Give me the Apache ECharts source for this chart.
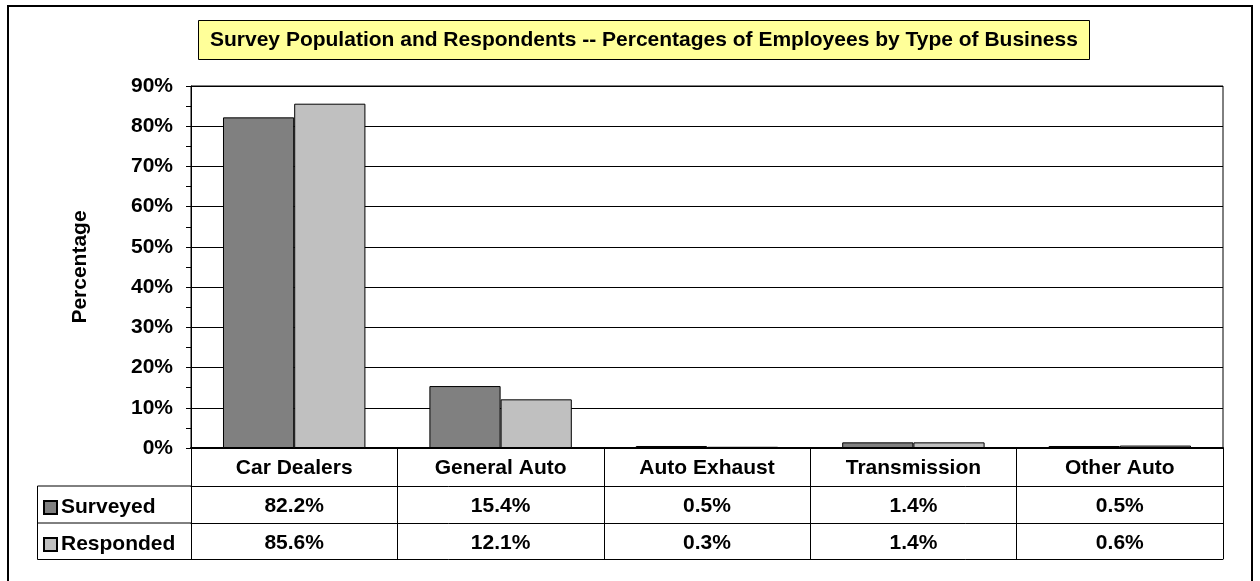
<!DOCTYPE html>
<html>
<head>
<meta charset="utf-8">
<title>Survey Population and Respondents</title>
<script src="https://cdn.jsdelivr.net/npm/echarts@6/dist/echarts.min.js"></script>
<style>
  html, body { margin: 0; padding: 0; background: #fff; }
  #chart { width: 1260px; height: 581px; }
</style>
</head>
<body>
<div id="chart"></div>
<script>
const categories = ['Car Dealers', 'General Auto', 'Auto Exhaust', 'Transmission', 'Other Auto'];
const surveyed = [82.2, 15.4, 0.5, 1.4, 0.5];
const responded = [85.6, 12.1, 0.3, 1.4, 0.6];
const yTicks = [0, 10, 20, 30, 40, 50, 60, 70, 80, 90];

const FONT = 'Liberation Sans, Arial, sans-serif';
const bold21 = { fontFamily: FONT, fontWeight: 'bold', fontSize: 21, color: '#000' };

const chart = echarts.init(document.getElementById('chart'));

// one extra category axis per table row, labels pulled from the arrays
function rowAxis(offset, values, showLabels) {
  return {
    type: 'category',
    data: categories,
    position: 'bottom',
    offset: offset,
    axisLine: { show: true, lineStyle: { color: '#000', width: 1 } },
    axisTick: { show: false },
    axisLabel: {
      show: showLabels,
      margin: 10,
      ...bold21,
      formatter: (v, i) => values ? values[i].toFixed(1) + '%' : v
    }
  };
}

const option = {
  animation: false,
  backgroundColor: '#fff',
  title: {
    text: 'Survey Population and Respondents -- Percentages of Employees by Type of Business',
    left: 198,
    top: 20,
    padding: [10, 12, 9, 12],
    backgroundColor: '#ffff99',
    borderColor: '#000',
    borderWidth: 1,
    textStyle: { ...bold21, lineHeight: 21 }
  },
  legend: {
    orient: 'vertical',
    left: 43,
    top: 497,
    padding: 0,
    itemWidth: 13,
    itemHeight: 13,
    itemGap: 16,
    icon: 'rect',
    selectedMode: false,
    textStyle: { ...bold21, padding: [0, 0, 0, -1], lineHeight: 21 },
    data: ['Surveyed', 'Responded']
  },
  grid: {
    left: 191, right: 37, top: 86, bottom: 133,
    show: true, borderColor: '#000', borderWidth: 1
  },
  xAxis: [
    {
      type: 'category',
      data: categories,
      position: 'bottom',
      axisLine: { show: true, lineStyle: { color: '#000', width: 2 } },
      axisTick: { show: true, length: 111, lineStyle: { color: '#000' } },
      axisLabel: { margin: 10, ...bold21 }
    },
    rowAxis(38, surveyed, true),
    rowAxis(75, responded, true),
    rowAxis(111, null, false)
  ],
  yAxis: {
    type: 'value',
    min: 0,
    max: 90,
    interval: 10,
    name: 'Percentage',
    nameLocation: 'middle',
    nameRotate: 90,
    nameGap: 100,
    nameTextStyle: bold21,
    axisLine: { show: true, lineStyle: { color: '#000', width: 1 } },
    axisTick: { show: true, length: 5, lineStyle: { color: '#000' } },
    minorTick: { show: true, splitNumber: 2, length: 5, lineStyle: { color: '#000' } },
    splitLine: { show: true, lineStyle: { color: '#000', width: 1 } },
    axisLabel: {
      margin: 18,
      ...bold21,
      formatter: v => yTicks.includes(v) ? v + '%' : ''
    }
  },
  series: [
    {
      name: 'Surveyed',
      type: 'bar',
      data: surveyed,
      barGap: '0%',
      barCategoryGap: '31%',
      itemStyle: { color: '#808080', borderColor: '#000', borderWidth: 1 }
    },
    {
      name: 'Responded',
      type: 'bar',
      data: responded,
      itemStyle: { color: '#c0c0c0', borderColor: '#000', borderWidth: 1 }
    }
  ],
  graphic: [
    // outer chart-area border
    { type: 'rect', shape: { x: 8, y: 6, width: 1244, height: 600 },
      style: { fill: 'none', stroke: '#000', lineWidth: 2 }, silent: true },
    // legend column of the data table
    { type: 'polyline', shape: { points: [[191, 486], [37.5, 486], [37.5, 559.5], [191, 559.5]] },
      style: { fill: 'none', stroke: '#000', lineWidth: 1 }, silent: true },
    { type: 'line', shape: { x1: 37.5, y1: 523, x2: 191, y2: 523 },
      style: { stroke: '#000', lineWidth: 1 }, silent: true }
  ]
};

chart.setOption(option);
</script>
</body>
</html>
